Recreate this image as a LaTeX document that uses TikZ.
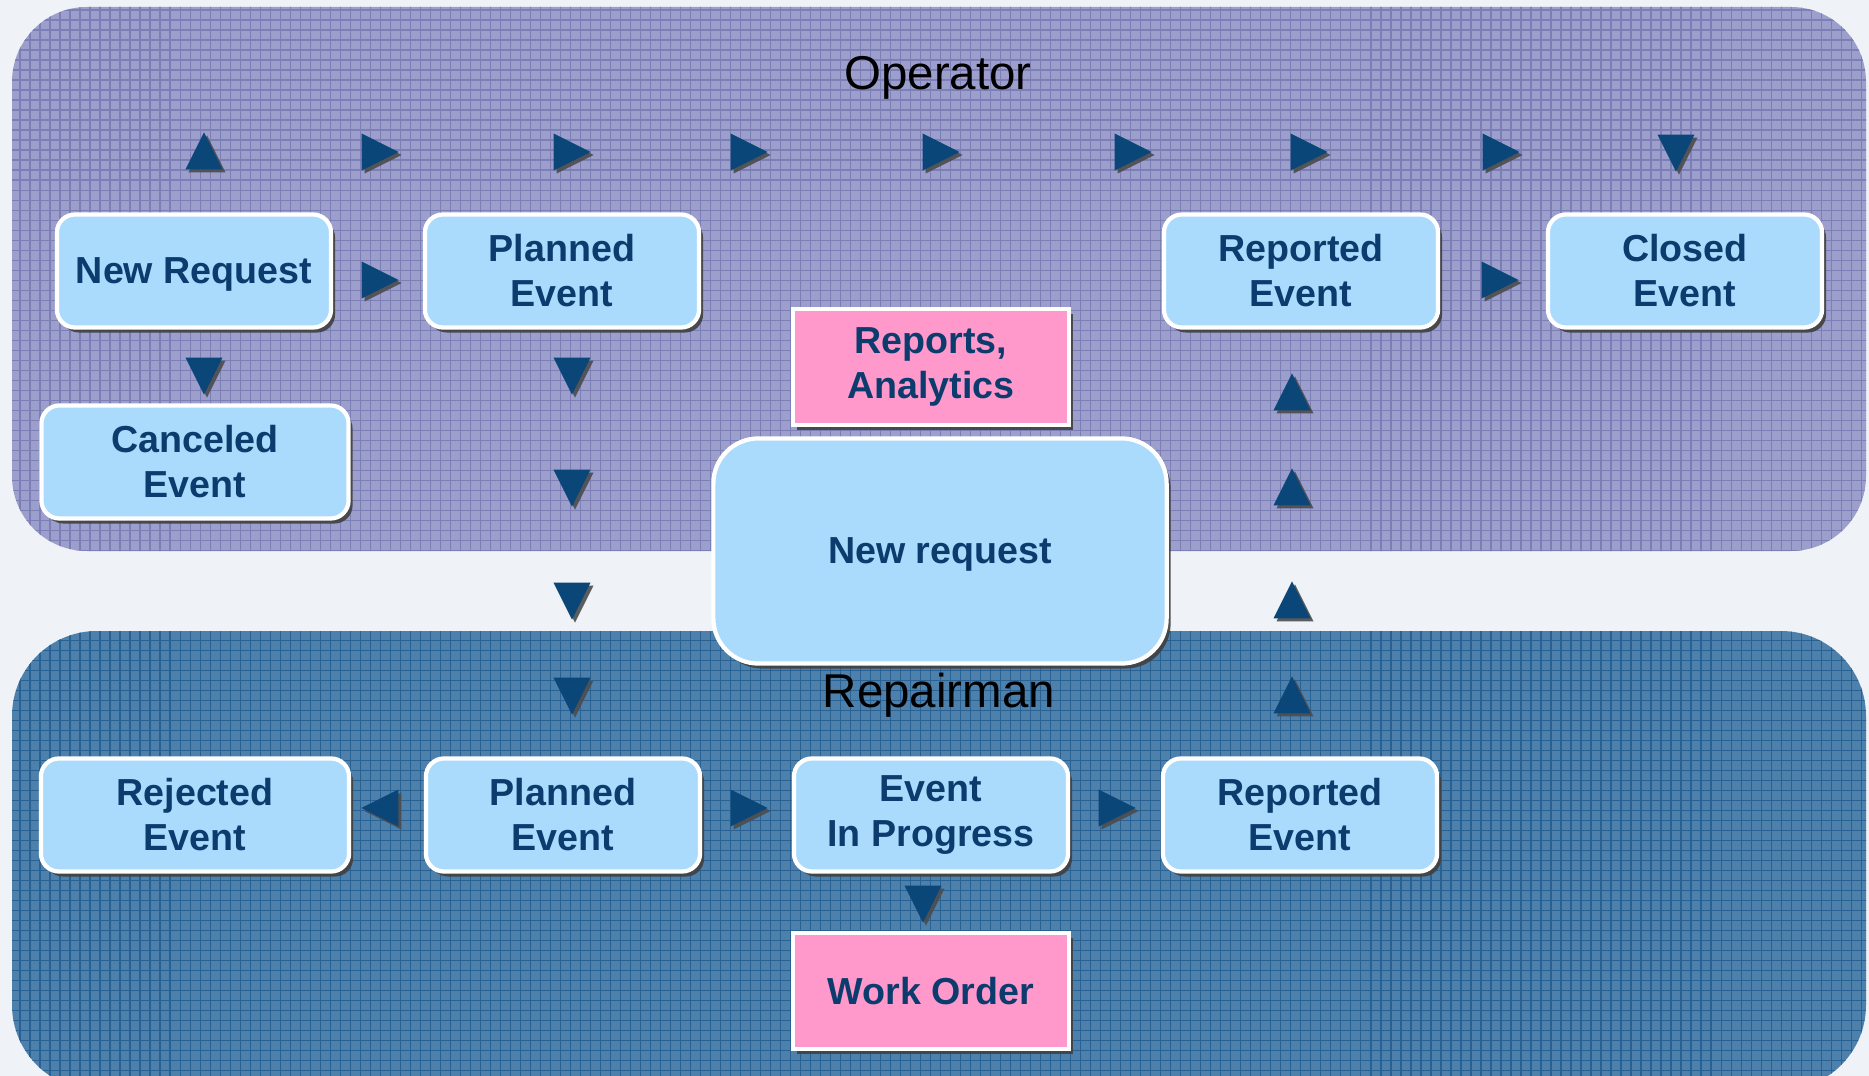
\documentclass[tikz,border=0pt]{standalone}
\usepackage{fontspec}
\setmainfont{Liberation Sans}
\usetikzlibrary{shapes.geometric,shadows}

\definecolor{bgfill}{RGB}{239,242,246}
\definecolor{opfill}{RGB}{156,158,204}
\definecolor{opgrid}{RGB}{124,126,182}
\definecolor{repfill}{RGB}{78,128,172}
\definecolor{repgrid}{RGB}{40,98,148}
\definecolor{evfill}{RGB}{170,219,253}
\definecolor{evtext}{RGB}{12,60,110}
\definecolor{docfill}{RGB}{255,153,204}
\definecolor{tipfill}{RGB}{10,70,120}

\begin{document}
\begin{tikzpicture}[x=0.01cm, y=-0.01cm,
    evbox/.style={draw=white, line width=1.2pt, fill=evfill, rounded corners=0.18cm,
      minimum width=2.74cm, minimum height=1.13cm, align=center, text=evtext,
      font=\fontsize{10.7}{12.8}\selectfont\bfseries,
      drop shadow={shadow xshift=0.04cm, shadow yshift=-0.05cm, fill=black!75, opacity=0.9}},
    docbox/.style={evbox, fill=docfill, sharp corners, minimum width=2.76cm, minimum height=1.16cm},
    tip/.style={isosceles triangle, isosceles triangle apex angle=53, fill=tipfill,
      inner sep=0pt, minimum size=0.37cm,
      drop shadow={shadow xshift=0.03cm, shadow yshift=-0.03cm, fill=black!70, opacity=0.9}},
    lane/.style={font=\fontsize{13.5}{16}\selectfont}
  ]

  \useasboundingbox (0,0) rectangle (1869,1076);
  \clip (0,0) rectangle (1869,1076);
  \fill[bgfill] (0,0) rectangle (1869,1076);

  % operator lane
  \fill[opfill, rounded corners=0.75cm] (12,7) rectangle (1866,551);
  \begin{scope}
    \clip[rounded corners=0.75cm] (12,7) rectangle (1866,551);
    \draw[opgrid, line width=0.35pt, step=0.1cm] (0,560) grid (1869,0);
  \end{scope}

  % repairman lane
  \fill[repfill, rounded corners=0.85cm] (12,631) rectangle (1866,1090);
  \begin{scope}
    \clip[rounded corners=0.85cm] (12,631) rectangle (1866,1090);
    \draw[repgrid, line width=0.35pt, step=0.1cm] (0,1090) grid (1869,620);
  \end{scope}

  \node[lane] (op) at (938,78) {Operator};
  \node[lane] (rp) at (939,695) {Repairman};

  \node[evbox, text depth=0pt] (nr) at (194,271) {New Request};
  \node[evbox] (pe1) at (562,271) {Planned\\Event};
  \node[evbox, minimum width=3.07cm] (ce) at (195,462) {Canceled\\Event};
  \node[docbox] (ra) at (931,367) {Reports,\\Analytics};
  \node[evbox] (re1) at (1301,271) {Reported\\Event};
  \node[evbox] (cl) at (1685,271) {Closed\\Event};

  \node[evbox, minimum width=4.53cm, minimum height=2.25cm, rounded corners=0.45cm, text depth=0pt] (nq) at (940,551) {New request};

  \node[evbox, minimum width=3.08cm] (rj) at (195,815) {Rejected\\Event};
  \node[evbox] (pe2) at (563,815) {Planned\\Event};
  \node[evbox] (ip) at (931,815) {Event\\In Progress};
  \node[evbox] (re2) at (1300,815) {Reported\\Event};
  \node[docbox] (wo) at (931,991) {Work Order};

  % flow marks, upper row
  \node[tip, shape border rotate=90] (a1) at (204,158) {};
  \node[tip] (a2) at (373,152) {};
  \node[tip] (a3) at (565,152) {};
  \node[tip] (a4) at (742,152) {};
  \node[tip] (a5) at (934,152) {};
  \node[tip] (a6) at (1126,152) {};
  \node[tip] (a7) at (1302,152) {};
  \node[tip] (a8) at (1494,152) {};
  \node[tip, shape border rotate=270] (a9) at (1676,146) {};

  \node[tip] (a10) at (373,280) {};
  \node[tip] (a11) at (1493,280) {};

  % flow marks, down the planned column
  \node[tip, shape border rotate=270] (a12) at (204,369) {};
  \node[tip, shape border rotate=270] (a13) at (572,369) {};
  \node[tip, shape border rotate=270] (a14) at (572,481) {};
  \node[tip, shape border rotate=270] (a15) at (572,594) {};
  \node[tip, shape border rotate=270] (a16) at (572,689) {};

  % flow marks, up the reported column
  \node[tip, shape border rotate=90] (a17) at (1292,399) {};
  \node[tip, shape border rotate=90] (a18) at (1292,494) {};
  \node[tip, shape border rotate=90] (a19) at (1292,607) {};
  \node[tip, shape border rotate=90] (a20) at (1292,702) {};

  % flow marks, lower row
  \node[tip, shape border rotate=180] (a21) at (387,808) {};
  \node[tip] (a22) at (742,808) {};
  \node[tip] (a23) at (1110,808) {};
  \node[tip, shape border rotate=270] (a24) at (923,897) {};

\end{tikzpicture}
\end{document}
